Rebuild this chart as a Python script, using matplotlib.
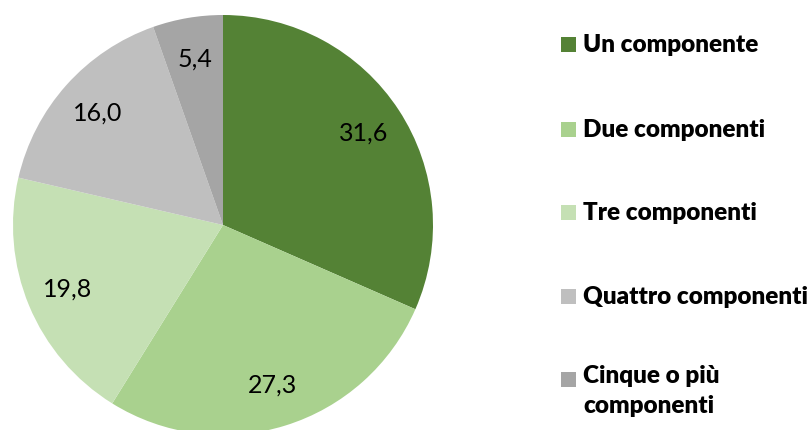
import matplotlib
matplotlib.use("Agg")
import matplotlib.pyplot as plt
from matplotlib.patches import Rectangle

plt.rcParams["font.family"] = ["Lato", "DejaVu Sans"]

categories = ["Un componente", "Due componenti", "Tre componenti",
              "Quattro componenti", "Cinque o più\ncomponenti"]
values = [31.6, 27.3, 19.8, 16.0, 5.4]
value_labels = ["31,6", "27,3", "19,8", "16,0", "5,4"]
colors = ["#548235", "#A9D18E", "#C5E0B4", "#BFBFBF", "#A5A5A5"]

W, H = 812, 430
fig = plt.figure(figsize=(W / 100, H / 100), dpi=100)

# pie: centre (223, 225) px, radius 210 px
cx, cy, r = 223, 225, 210
ax = fig.add_axes([(cx - r) / W, (H - cy - r) / H, 2 * r / W, 2 * r / H])
wedges, texts = ax.pie(
    values, labels=value_labels, colors=colors, startangle=90,
    counterclock=False, radius=1, labeldistance=0.8,
    wedgeprops=dict(linewidth=0),
    textprops=dict(fontsize=18, color="#000000"),
)
for t in texts:
    t.set_horizontalalignment("center")
    t.set_verticalalignment("center")
ax.set_xlim(-1, 1)
ax.set_ylim(-1, 1)
ax.set_aspect("equal")
ax.axis("off")

# legend drawn by hand so the last marker sits on the first line
leg_y = [45, 130, 213, 297, 380]
for lab, col, y in zip(categories, colors, leg_y):
    fig.patches.append(Rectangle((561 / W, (H - y - 7) / H), 15 / W, 15 / H,
                                 transform=fig.transFigure, facecolor=col,
                                 edgecolor="none"))
    multi = "\n" in lab
    fig.text(583 / W, (H - y + (15 if multi else 0)) / H, lab, fontsize=17.5,
             fontweight="heavy", ha="left", va="top" if multi else "center",
             linespacing=1.45, color="#000000")

fig.savefig("out.png", dpi=100)
